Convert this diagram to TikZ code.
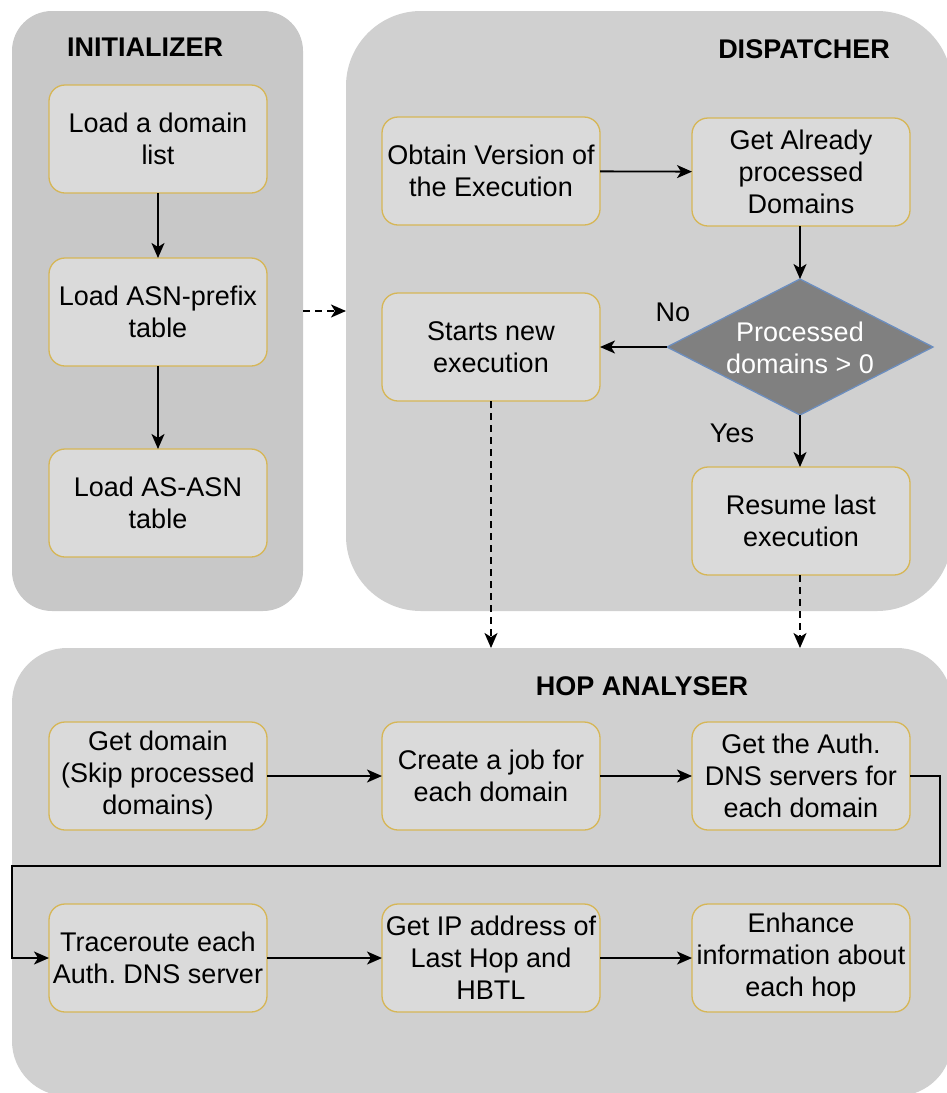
\documentclass[tikz,border=0pt]{standalone}
\usepackage{fontspec}
\setmainfont{Liberation Sans}
\frenchspacing
\usetikzlibrary{arrows.meta,shapes.geometric}
\definecolor{initfill}{HTML}{C8C8C8}
\definecolor{panelfill}{HTML}{D0D0D0}
\definecolor{boxfill}{HTML}{DADADA}
\definecolor{boxline}{HTML}{D6B656}
\definecolor{decfill}{HTML}{808080}
\definecolor{decline}{HTML}{6C8EBF}

\begin{document}
\begin{tikzpicture}[x=1pt,y=-1pt,
  panel/.style={rectangle, inner sep=0pt, outer sep=0pt},
  stepbox/.style={rectangle, rounded corners=16pt, draw=boxline, fill=boxfill,
    line width=1.3pt, minimum width=218pt, minimum height=108pt, align=center,
    inner sep=2pt, outer sep=0pt, font=\fontsize{27}{32}\selectfont},
  title/.style={font=\fontsize{27}{30}\selectfont\bfseries},
  lbl/.style={font=\fontsize{27}{32}\selectfont},
  flow/.style={draw=black, line width=1.8pt, -{Stealth[length=15pt,width=13pt,inset=4pt]}},
  dflow/.style={flow, dash pattern=on 7pt off 5pt}]

\useasboundingbox[fill=white] (0,0) rectangle (946,1093);

% panels
\node[panel, fill=initfill, rounded corners=40pt, minimum width=291pt, minimum height=600pt] (init) at (157.5,311) {};
\node[panel, fill=panelfill, rounded corners=75pt, minimum width=606pt, minimum height=600pt] (disp) at (649,311) {};
\node[panel, fill=panelfill, rounded corners=55pt, minimum width=940pt, minimum height=448pt] (hop) at (482,872) {};

\node[title] (tinit) at (145,47) {INITIALIZER};
\node[title] (tdisp) at (804,49) {DISPATCHER};
\node[title] (thop) at (642,686) {HOP ANALYSER};

% initializer steps
\node[stepbox] (i1) at (158,139) {Load a domain\\list};
\node[stepbox] (i2) at (158,312) {Load ASN-prefix\\table};
\node[stepbox] (i3) at (158,503) {Load AS-ASN\\table};

% dispatcher steps
\node[stepbox] (obtain) at (491,171) {Obtain Version of\\the Execution};
\node[stepbox] (already) at (801,172) {Get Already\\processed\\Domains};
\node[stepbox] (starts) at (491,347) {Starts new\\execution};
\node[shape=diamond, draw=decline, fill=decfill, line width=1.3pt, inner sep=0pt, outer sep=0pt,
  minimum width=266pt, minimum height=136pt] (dec) at (800,347) {};
\node[lbl, text=white, align=center] (dectxt) at (800,348) {Processed\\domains > 0};
\node[stepbox] (resume) at (801,521) {Resume last\\execution};

% hop analyser steps
\node[stepbox] (h1) at (158,776) {Get domain\\(Skip processed\\domains)};
\node[stepbox] (h2) at (491,776) {Create a job for\\each domain};
\node[stepbox] (h3) at (801,776) {Get the Auth.\\DNS servers for\\each domain};
\node[stepbox] (h4) at (158,958) {Traceroute each\\Auth. DNS server};
\node[stepbox] (h5) at (491,958) {Get IP address of\\Last Hop and\\HBTL};
\node[stepbox] (h6) at (801,958) {Enhance\\information about\\each hop};

% branch labels
\node[lbl] (lno) at (673,312) {No};
\node[lbl] (lyes) at (732,433) {Yes};

% connectors
\draw[flow] (i1) -- (i2);
\draw[flow] (i2) -- (i3);
\draw[dflow] (init.east) -- (disp.west);

\draw[flow] (obtain) -- (already);
\draw[flow] (already.south -| dec.north) -- (dec.north);
\draw[flow] (dec.west) -- (dec.west -| starts.east);
\draw[flow] (dec.south) -- (dec.south |- resume.north);
\draw[dflow] (starts.south) -- (starts.south |- hop.north);
\draw[dflow] (resume.south -| dec.south) -- (dec.south |- hop.north);

\coordinate (loopR) at (940,866);
\coordinate (loopL) at (12,866);
\draw[flow] (h1) -- (h2);
\draw[flow] (h2) -- (h3);
\draw[flow] (h3.east) -| (loopR) -- (loopL) |- (h4.west);
\draw[flow] (h4) -- (h5);
\draw[flow] (h5) -- (h6);
\end{tikzpicture}
\end{document}
